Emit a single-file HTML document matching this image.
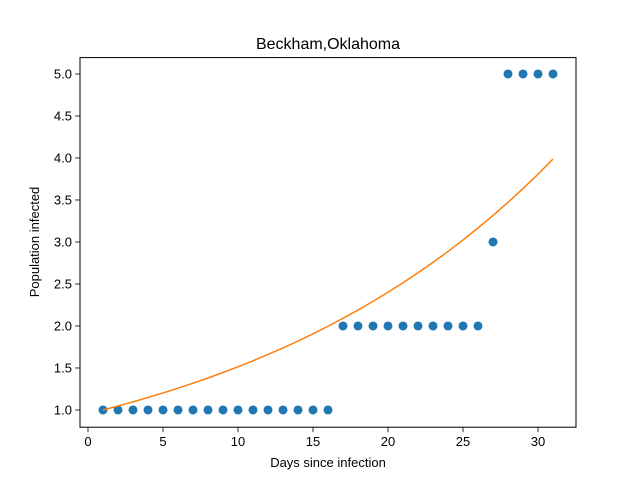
<!DOCTYPE html>
<html><head><meta charset="utf-8"><style>
body{margin:0;background:#fff}
svg{display:block;font-family:"Liberation Sans","DejaVu Sans",sans-serif}
</style></head><body>
<svg id="chart" width="640" height="480" xmlns="http://www.w3.org/2000/svg">
<rect width="640" height="480" fill="#fff"/>
<text x="328" y="49" font-size="16" text-anchor="middle">Beckham,Oklahoma</text>
<g id="plot"></g>
<rect x="80" y="57.6" width="496" height="369.6" fill="none" stroke="#000" stroke-width="1"/>
<text x="328" y="467" font-size="13" text-anchor="middle">Days since infection</text>
<text transform="translate(39,242) rotate(-90)" font-size="13" text-anchor="middle">Population infected</text>
</svg>
<script>
const days = [1,2,3,4,5,6,7,8,9,10,11,12,13,14,15,16,17,18,19,20,21,22,23,24,25,26,27,28,29,30,31];
const infected = [1,1,1,1,1,1,1,1,1,1,1,1,1,1,1,1,2,2,2,2,2,2,2,2,2,2,3,5,5,5,5];
const fitA = 0.955;
const fitB = 0.0461;
const xTicks = [0,5,10,15,20,25,30];
const yTicks = [1.0,1.5,2.0,2.5,3.0,3.5,4.0,4.5,5.0];

const L=80,R=576,T=57.6,B=427.2;
const xMin=-0.533,xMax=32.533,yMin=0.795,yMax=5.195;
const sx=v=>L+(v-xMin)/(xMax-xMin)*(R-L);
const sy=v=>B-(v-yMin)/(yMax-yMin)*(B-T);
const NS="http://www.w3.org/2000/svg";
const g=document.getElementById('plot');
function mk(t,a){const e=document.createElementNS(NS,t);for(const k in a)e.setAttribute(k,a[k]);g.appendChild(e);return e;}

xTicks.forEach(v=>{
  const l=mk('line',{x1:sx(v),x2:sx(v),y1:B,y2:B+4.9,stroke:'#000','stroke-width':0.8});
  
  
  const t=mk('text',{x:sx(v),y:B+19,'font-size':13,'text-anchor':'middle'});
  t.textContent=v;
  
  
});
yTicks.forEach(v=>{
  const l=mk('line',{x1:L-4.9,x2:L,y1:sy(v),y2:sy(v),stroke:'#000','stroke-width':0.8});
  
  
  const t=mk('text',{x:L-8,y:sy(v)+4.5,'font-size':13,'text-anchor':'end'});
  t.textContent=v.toFixed(1);
  
  
});
days.forEach((d,i)=>{
  const c=mk('circle',{cx:sx(d),cy:sy(infected[i]),r:4.5,fill:'#1f77b4'});
  
  
});
let pts=days.map(d=>sx(d).toFixed(2)+','+sy(fitA*Math.exp(fitB*d)).toFixed(2)).join(' ');
const p=mk('polyline',{points:pts,fill:'none',stroke:'#ff7f0e','stroke-width':1.5});


</script>
</body></html>
